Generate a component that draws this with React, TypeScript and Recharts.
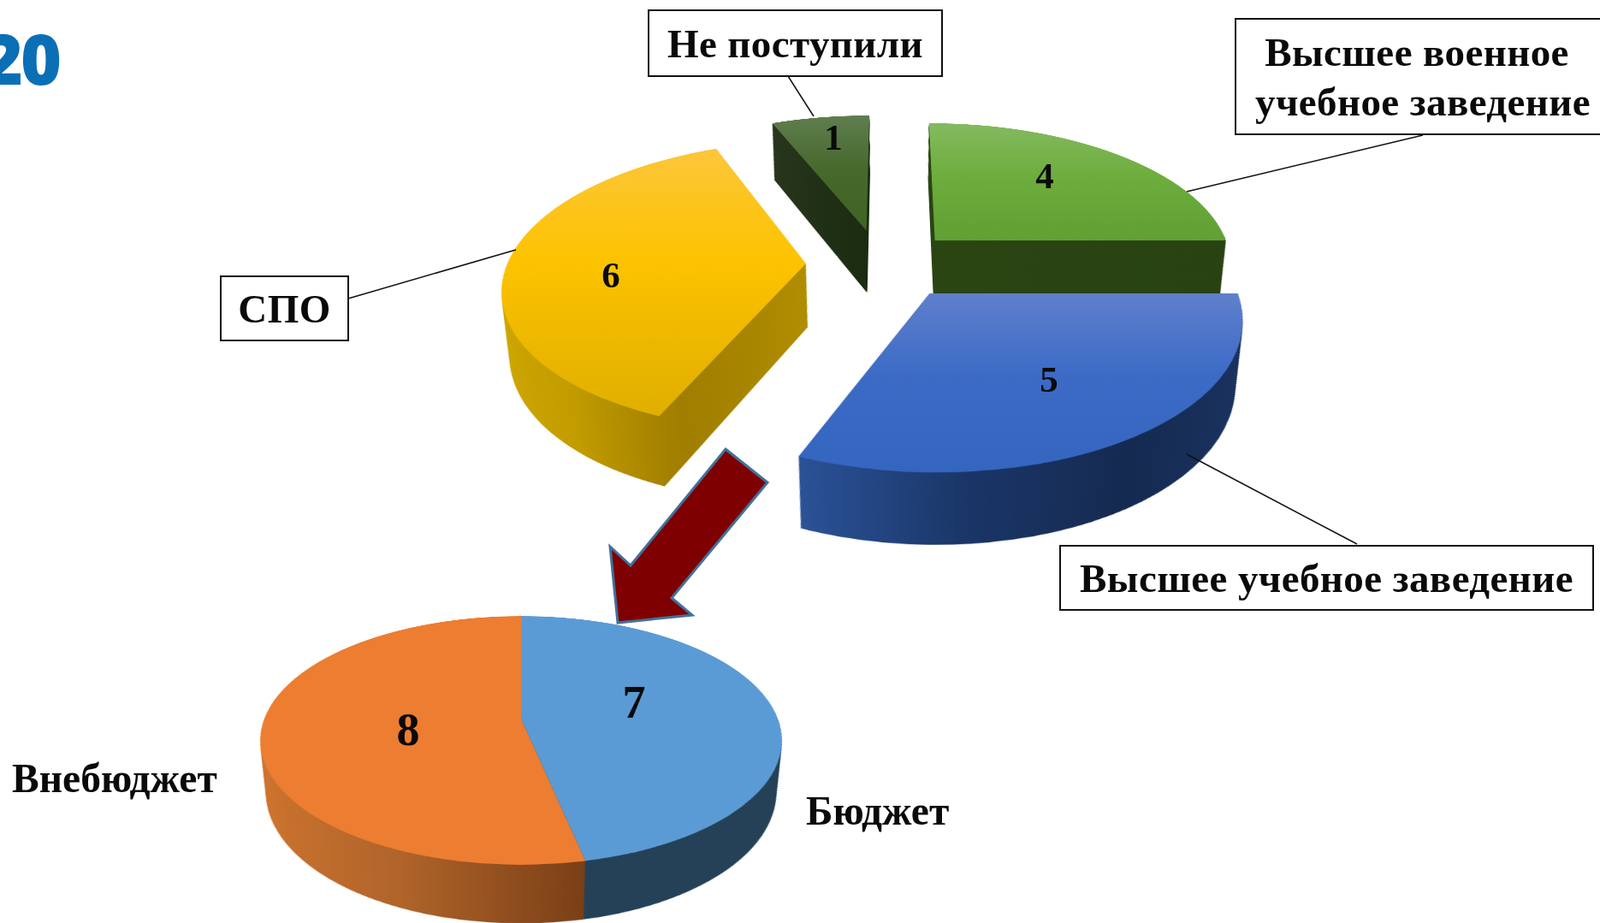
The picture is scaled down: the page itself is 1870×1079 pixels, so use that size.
import React from "react";
import { PieChart, Pie } from "recharts";

// upper pie, clockwise from 12 o'clock
const topCategories = ["Высшее военное учебное заведение", "Высшее учебное заведение", "СПО", "Не поступили"];
const topValues = [4, 5, 6, 1];
// lower pie (breakdown of СПО)
const bottomCategories = ["Бюджет", "Внебюджет"];
const bottomValues = [7, 8];

// slice look, same order as the values
const topFaces = ["topGreen", "topBlue", "topYellow", "topDark"];
const topSides = ["sideGreen", "sideBlue", "sideYellow", "sideDark"];
const topOffsets = [
  { x: 55, y: -105 },
  { x: 46, y: 26 },
  { x: -100, y: -46 },
  { x: -29, y: -132 },
];

const serif = "'Liberation Serif', serif";

type Camera = { distance: number; tilt: number; ox: number; oy: number };
type Wedge = {
  name: string;
  value: number;
  start: number;
  end: number;
  x: number;
  y: number;
  face: string;
  side: string;
};

function angles(values: number[]) {
  const total = values.reduce((a, b) => a + b, 0);
  let sum = 0;
  return values.map((v) => {
    const start = 90 - (sum / total) * 360;
    sum += v;
    return { start, end: 90 - (sum / total) * 360 };
  });
}

// a plane sunk by h under the chart plane projects like a scaled copy of it,
// so the whole extrusion can stay in one svg under one css perspective
function stack(wedges: Wedge[], cam: Camera, radius: number, depth: number) {
  const rad = (cam.tilt * Math.PI) / 180;
  const eyeY = cam.distance * Math.sin(rad);
  const eyeZ = cam.distance * Math.cos(rad);
  const out = [];
  for (let h = depth; h >= 0; h -= 1) {
    const t = eyeZ / (eyeZ + h);
    for (const w of wedges) {
      out.push(
        <Pie
          key={w.name + h}
          data={[{ name: w.name, value: w.value }]}
          dataKey="value"
          cx={cam.ox + t * w.x}
          cy={cam.oy + eyeY + t * (w.y - eyeY)}
          outerRadius={t * radius}
          startAngle={w.start}
          endAngle={w.end}
          fill={`url(#${h === 0 ? w.face : w.side})`}
          stroke="none"
          isAnimationActive={false}
        />
      );
    }
  }
  return out;
}

function grad(id: string, stops: string[], horizontal = false) {
  return (
    <linearGradient id={id} x1="0" y1="0" x2={horizontal ? "1" : "0"} y2={horizontal ? "0" : "1"} key={id}>
      {stops.map((c, i) => (
        <stop key={i} offset={i / (stops.length - 1)} stopColor={c} />
      ))}
    </linearGradient>
  );
}

const Box: React.FC<{ x: number; y: number; w: number; h: number; lines: string[]; shifts?: number[] }> = ({
  x,
  y,
  w,
  h,
  lines,
  shifts,
}) => (
  <div
    style={{
      position: "absolute",
      left: x,
      top: y,
      width: w,
      height: h,
      boxSizing: "border-box",
      border: "2px solid #111",
      background: "#fff",
      fontFamily: serif,
      fontWeight: 700,
      fontSize: 47,
      lineHeight: "58px",
      letterSpacing: 0.4,
      color: "#0a0a0a",
      textAlign: "center",
      display: "flex",
      flexDirection: "column",
      justifyContent: "center",
      whiteSpace: "nowrap",
    }}
  >
    {lines.map((l, i) => (
      <div key={l} style={{ position: "relative", left: shifts ? shifts[i] : 0 }}>
        {l}
      </div>
    ))}
  </div>
);

const FreeLabel: React.FC<{ x: number; y: number; text: string }> = ({ x, y, text }) => (
  <div
    style={{
      position: "absolute",
      left: x,
      top: y,
      fontFamily: serif,
      fontWeight: 700,
      fontSize: 47.5,
      lineHeight: "50px",
      color: "#0a0a0a",
      whiteSpace: "nowrap",
    }}
  >
    {text}
  </div>
);

const noMargin = { top: 0, right: 0, bottom: 0, left: 0 };

export default function App() {
  const topAngles = angles(topValues);
  const bottomAngles = angles(bottomValues);

  const topWedges: Wedge[] = topValues.map((value, i) => ({
    name: topCategories[i],
    value,
    start: topAngles[i].start,
    end: topAngles[i].end,
    x: topOffsets[i].x,
    y: topOffsets[i].y,
    face: topFaces[i],
    side: topSides[i],
  }));
  const bottomWedges: Wedge[] = [
    { name: bottomCategories[1], value: bottomValues[1], start: bottomAngles[1].start, end: bottomAngles[1].end, x: 0, y: 0, face: "faceExtra", side: "sideExtra" },
    { name: bottomCategories[0], value: bottomValues[0], start: bottomAngles[0].start, end: bottomAngles[0].end, x: 0, y: 0, face: "faceBudget", side: "sideBudget" },
  ];

  return (
    <div style={{ position: "fixed", left: 0, top: 0, width: 1870, height: 1079, overflow: "hidden", background: "#fff" }}>
      {/* logo fragment */}
      <div
        style={{
          position: "absolute",
          right: 1870 - 69,
          top: 9,
          fontFamily: "'Open Sans', sans-serif",
          fontWeight: 800,
          fontSize: 82,
          lineHeight: "116px",
          letterSpacing: -3,
          color: "#0b6fb6",
        }}
      >
        20
      </div>

      {/* upper pie */}
      <div
        style={{
          position: "absolute",
          left: 340,
          top: -170,
          width: 1400,
          height: 1500,
          transformOrigin: "700px 500px",
          transform: "perspective(2000px) rotateX(61deg)",
        }}
      >
        <PieChart width={1400} height={1500} margin={noMargin}>
          <defs>
            {grad("topGreen", ["#84ba60", "#6dad3d", "#60a034"])}
            {grad("topBlue", ["#6080cc", "#3c6bc6", "#3465bf"])}
            {grad("topYellow", ["#fcc63c", "#fdc300", "#e0af00"])}
            {grad("topDark", ["#5f7e50", "#47692c", "#3f6423"])}
            {grad("sideGreen", ["#2a4512", "#284212"], true)}
            {grad("sideBlue", ["#2b5297", "#1a3668", "#152a50", "#1a3360"], true)}
            {grad("sideYellow", ["#cfa700", "#c29c00", "#a07e00", "#b08d00"], true)}
            {grad("sideDark", ["#27351d", "#1b2c10"], true)}
          </defs>
          {stack(topWedges, { distance: 2000, tilt: 61, ox: 700, oy: 500 }, 356, 88)}
        </PieChart>
      </div>

      {/* lower pie */}
      <div
        style={{
          position: "absolute",
          left: 209,
          top: 540,
          width: 800,
          height: 900,
          transformOrigin: "400px 300px",
          transform: "perspective(1508px) rotateX(62deg)",
        }}
      >
        <PieChart width={800} height={900} margin={noMargin}>
          <defs>
            {grad("faceBudget", ["#5b9bd5", "#5b9bd5"])}
            {grad("faceExtra", ["#ed7d31", "#ed7d31"])}
            {grad("sideBudget", ["#254157", "#254157"], true)}
            {grad("sideExtra", ["#d0752f", "#b0642a", "#7a3f16"], true)}
          </defs>
          {stack(bottomWedges, { distance: 1508, tilt: 62, ox: 400, oy: 300 }, 300, 70)}
        </PieChart>
      </div>

      {/* leader lines, arrow and values */}
      <svg width={1870} height={1079} style={{ position: "absolute", left: 0, top: 0 }}>
        <g stroke="#111" strokeWidth={1.5}>
          <line x1={921} y1={89} x2={951} y2={136} />
          <line x1={1663} y1={158} x2={1387} y2={224} />
          <line x1={407} y1={349} x2={603} y2={292} />
          <line x1={1586} y1={636} x2={1387} y2={531} />
        </g>
        <polygon
          points="848,525 897,564 785,699 809,719 722,728 713,639 737,661"
          fill="#7f0000"
          stroke="#41719c"
          strokeWidth={3}
        />
        <g fontFamily={serif} fontWeight={700} fill="#0a0a0a" textAnchor="middle">
          <text x={1221} y={220} fontSize={43}>{topValues[0]}</text>
          <text x={1226} y={458} fontSize={43}>{topValues[1]}</text>
          <text x={714} y={336} fontSize={43}>{topValues[2]}</text>
          <text x={974} y={175} fontSize={43}>{topValues[3]}</text>
          <text x={741} y={839} fontSize={54}>{bottomValues[0]}</text>
          <text x={477} y={871} fontSize={54}>{bottomValues[1]}</text>
        </g>
      </svg>

      <Box x={757} y={11} w={345} h={79} lines={[topCategories[3]]} />
      <Box x={1443} y={21} w={440} h={137} lines={["Высшее военное", "учебное заведение"]} shifts={[-7, 0]} />
      <Box x={257} y={322} w={151} h={77} lines={[topCategories[2]]} />
      <Box x={1238} y={637} w={625} h={77} lines={[topCategories[1]]} />
      <FreeLabel x={14} y={885} text={bottomCategories[1]} />
      <FreeLabel x={942} y={923} text={bottomCategories[0]} />
    </div>
  );
}
